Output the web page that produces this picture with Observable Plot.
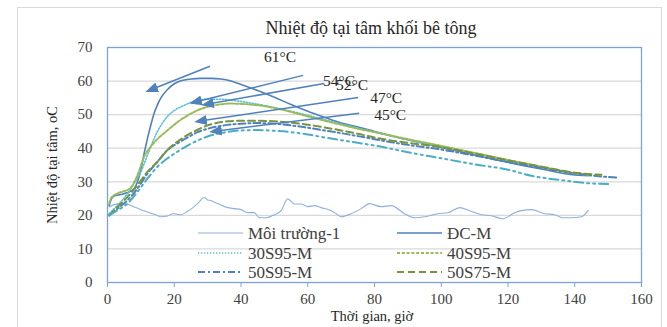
<!DOCTYPE html>
<html><head><meta charset="utf-8">
<script src="https://cdn.jsdelivr.net/npm/d3@7"></script>
<script src="https://cdn.jsdelivr.net/npm/@observablehq/plot@0.6"></script>
<style>
body{margin:0;background:#fff;}
#wrap{position:relative;width:667px;height:327px;overflow:hidden;font-family:"Liberation Serif","Times New Roman",serif;color:#262626;}
#border{position:absolute;left:17px;top:7px;width:645px;height:340px;border:1px solid #d9d9d9;box-sizing:border-box;}
#chart{position:absolute;left:0;top:0;}
.lbl{position:absolute;white-space:nowrap;}
#title{left:0;width:742px;top:18px;text-align:center;font-size:18px;}
#xlab{left:0;width:744px;top:308px;text-align:center;font-size:14.5px;}
#ylab{left:52px;top:165px;font-size:14.5px;transform:translate(-50%,-50%) rotate(-90deg);}
#legend{position:absolute;left:0;top:0;}
</style></head><body>
<div id="wrap">
  <div id="border"></div>
  <div id="chart"></div>
  <div class="lbl" id="title">Nhiệt độ tại tâm khối bê tông</div>
  <div class="lbl" id="ylab">Nhiệt độ tại tâm, oC</div>
  <div class="lbl" id="xlab">Thời gian, giờ</div>
</div>
<script>
// ---------- data ----------
const xTicks = [0, 20, 40, 60, 80, 100, 120, 140, 160];
const yTicks = [0, 10, 20, 30, 40, 50, 60, 70];

const seriesNames = ["Môi trường-1", "ĐC-M", "30S95-M", "40S95-M", "50S95-M", "50S75-M", ""];

const ambientX = [0.5,2,4,6,8,10,12,14,16,18,19.5,21,22,24,25.6,27,29,30,31,33,36,38,40,42,44,45.5,47.5,50,52,54,56,58,60,62,64,67,68.5,70,73,76,78.5,82,85,89,92,95,99,102,105.5,108.5,112,115,118.5,122,124,127,131,134,136.5,139,142,144];
const ambientY = [22.5,23.2,23.5,23.3,22.5,21.7,21,20.3,19.6,19.8,20.5,20.3,20.2,21.2,22.3,23.5,25.3,24.6,24.4,23.5,22.3,22,21.7,20.8,20.8,19.3,19.3,20.2,21.4,24.9,23.4,23.4,22.6,22.9,22.3,21.4,20.5,19.6,20.5,22,23.5,22.6,22.9,20.5,19.3,19.6,20.5,20.8,22.3,21.4,20.2,19.9,19,20.8,21.4,21.7,20.5,20.2,19.3,19.3,19.6,21.5];

const dcX = [0.5,1,2,4,6,8,9,10,11,12,13,14,15,16,18,20,22,25,28,31,34,37,40,45,50,55,60,65,70,75,80,90,100,110,120,130,140,144];
const dcY = [22.9,24.5,25.8,26.2,26.8,28,30,33.5,38.5,43,47,50.5,53,55,57.5,59.2,60.1,60.6,60.8,60.8,60.6,60,59,57.2,55.2,53,51,49.2,47.5,46.3,45,42.5,40.2,38,35.8,33.8,32,31.8];

const s3095X = [0.5,2,4,6,8,10,12,14,16,18,20,23,26,30,34,38,42,46,50,55,60,65,70,75,80,90,100,110,120,130,140,145];
const s3095Y = [20.5,22,24,26.5,29.5,33,38,43,46.8,49.5,51.2,52.8,54,54.6,54.6,54.2,53.6,52.9,52.1,51,49.8,48.5,47.2,46,44.8,42.5,40.5,38.4,36.3,34.3,32.5,31.8];

const s4095X = [0.5,1,2.5,5,7,9,11,13,15,17,19,22,25,28,31,34,37,40,45,50,55,60,65,70,75,80,90,100,110,120,130,140,145];
const s4095Y = [23.5,25,26.3,27.2,28.3,32,37.5,40.5,42.8,44.5,46.2,48.5,50.3,51.7,52.6,53.1,53.3,53.2,52.8,52,50.8,49.5,48.2,47,45.8,44.8,42.7,40.7,38.6,36.5,34.5,32.6,32];

const s5095X = [0.5,3,6,9,12,15,18,21,24,27,30,35,40,45,50,55,60,65,70,75,80,85,90,100,110,120,130,140,148,153];
const s5095Y = [20,22,24.5,28,32.5,36,39.5,41.5,43.2,44.8,45.8,46.8,47.3,47.5,47.3,46.8,46.1,45.3,44.5,43.6,42.7,41.8,41,39.6,37.8,35.9,34.1,32.5,31.6,31.2];

const s5075X = [0.5,3,6,9,12,15,18,21,24,27,30,33,36,40,45,50,55,60,65,70,75,80,85,90,100,110,120,130,140,148];
const s5075Y = [20,22.5,25.5,29,33,36,39.5,42,44,45.5,46.8,47.6,48,48.2,48.2,48,47.6,47,46.2,45.3,44.3,43.2,42.3,41.6,40.3,38.4,36.4,34.5,32.7,32.1];

const s7X = [0.5,3,6,9,12,15,18,21,24,27,30,35,40,45,50,55,60,65,70,75,80,90,100,110,120,127,135,145,151];
const s7Y = [20,21.5,23.5,27,31,34.5,37,39,40.8,42.3,43.5,44.7,45.3,45.4,45.2,44.8,44.1,43.2,42.4,41.6,40.8,38.8,37,35.2,33.6,31.8,30.6,29.5,29.3];

// annotations (°C peaks)
const annoText  = ["61°C", "54°C", "52°C", "47°C", "45°C"];
const annoTextX = [46.9, 64.6, 68.5, 78.7, 79.9];
const annoTextY = [67.1, 59.9, 58.7, 54.8, 49.8];
const annoTailX = [30.7, 58.6, 64.9, 75.1, 75.4];
const annoTailY = [64.4, 61.7, 59.3, 55.1, 50.4];
const annoTipX  = [12.4, 25.6, 29.2, 27.1, 31.6];
const annoTipY  = [57.2, 53.6, 53.0, 48.0, 45.0];

// ---------- styles ----------
const BLUE = "#4f81bd";
const AX = "#7ba3d8";
const styles = [
  {stroke:"#8fb0dd", strokeWidth:1.1},
  {stroke:BLUE, strokeWidth:1.6},
  {stroke:"#5bc0de", strokeWidth:1.6, strokeDasharray:"1.3,1.7"},
  {stroke:"#9bbb59", strokeWidth:2, strokeDasharray:"3,1.8"},
  {stroke:BLUE, strokeWidth:2, strokeDasharray:"7,3,2,3"},
  {stroke:"#77933c", strokeWidth:2, strokeDasharray:"7,4"},
  {stroke:"#4bacc6", strokeWidth:2, strokeDasharray:"9,4,2,4,2,4"}
];
const xs = [ambientX, dcX, s3095X, s4095X, s5095X, s5075X, s7X];
const ys = [ambientY, dcY, s3095Y, s4095Y, s5095Y, s5075Y, s7Y];

function triMarker(color, context) {
  const ns = "http://www.w3.org/2000/svg";
  const m = document.createElementNS(ns, "marker");
  m.setAttribute("viewBox", "-5 -5 10 10");
  m.setAttribute("markerWidth", 8.5);
  m.setAttribute("markerHeight", 8.5);
  m.setAttribute("refX", 2);
  m.setAttribute("orient", "auto");
  m.setAttribute("fill", color);
  m.setAttribute("stroke", "none");
  const p = document.createElementNS(ns, "path");
  p.setAttribute("d", "M-5,-4L5,0L-5,4Z");
  m.appendChild(p);
  return m;
}

function build(marker) {
  const lineMarks = xs.map((X, k) => {
    const rows = X.map((x, i) => ({x, y: ys[k][i]}));
    return Plot.line(rows, {x:"x", y:"y", curve:"monotone-x", ...styles[k]});
  });
  const idx = annoText.map((_, i) => i);
  return Plot.plot({
    width: 667, height: 327,
    marginLeft: 107, marginRight: 26, marginTop: 47, marginBottom: 45,
    style: {fontFamily: "'Liberation Serif','Times New Roman',serif", fontSize: "15px", color: "#404040", background: "transparent"},
    x: {domain: [0, 160]},
    y: {domain: [0, 70]},
    marks: [
      Plot.gridY(yTicks.filter(v => v > 0 && v < 70), {stroke: "#d9d9d9", strokeOpacity: 1, strokeWidth: 1.2}),
      Plot.frame({stroke: AX, strokeWidth: 1.3}),
      Plot.axisY(yTicks, {tickSize: 0, tickPadding: 15, label: null, fill: "#404040", fontSize: 15}),
      Plot.axisX(xTicks, {tickSize: 5, tickPadding: 6, label: null, stroke: AX, fill: "#404040", fontSize: 15}),
      ...lineMarks,
      Plot.link(idx, {x1: i => annoTailX[i], y1: i => annoTailY[i], x2: i => annoTipX[i], y2: i => annoTipY[i],
        stroke: BLUE, strokeWidth: 1.5, markerEnd: marker}),
      Plot.text(idx, {x: i => annoTextX[i], y: i => annoTextY[i], text: i => annoText[i],
        textAnchor: "start", fill: "#262626", fontSize: 15.5})
    ]
  });
}

let chart;
try { chart = build(triMarker); } catch (e) { chart = build("arrow"); }
document.getElementById("chart").appendChild(chart);

// ---------- legend ----------
const legendOrder = [0, 1, 2, 3, 4, 5];
const ns = "http://www.w3.org/2000/svg";
const lg = document.createElementNS(ns, "svg");
lg.setAttribute("id", "legend");
lg.setAttribute("width", 667); lg.setAttribute("height", 327);
const rowsY = [233, 253, 272];
const colX = [198, 397];
legendOrder.forEach((k, j) => {
  const col = j % 2, row = Math.floor(j / 2);
  const y = rowsY[row], x0 = colX[col];
  const l = document.createElementNS(ns, "line");
  l.setAttribute("x1", x0); l.setAttribute("x2", x0 + 45);
  l.setAttribute("y1", y); l.setAttribute("y2", y);
  const s = styles[k];
  l.setAttribute("stroke", s.stroke);
  l.setAttribute("stroke-width", s.strokeWidth);
  if (s.strokeDasharray) l.setAttribute("stroke-dasharray", s.strokeDasharray);
  lg.appendChild(l);
  const t = document.createElementNS(ns, "text");
  t.setAttribute("x", x0 + 50); t.setAttribute("y", y);
  t.setAttribute("dy", "0.35em");
  t.setAttribute("font-family", "'Liberation Serif','Times New Roman',serif");
  t.setAttribute("font-size", 17);
  t.setAttribute("fill", "#404040");
  t.textContent = seriesNames[k];
  lg.appendChild(t);
});
document.getElementById("wrap").appendChild(lg);
</script>
</body></html>
